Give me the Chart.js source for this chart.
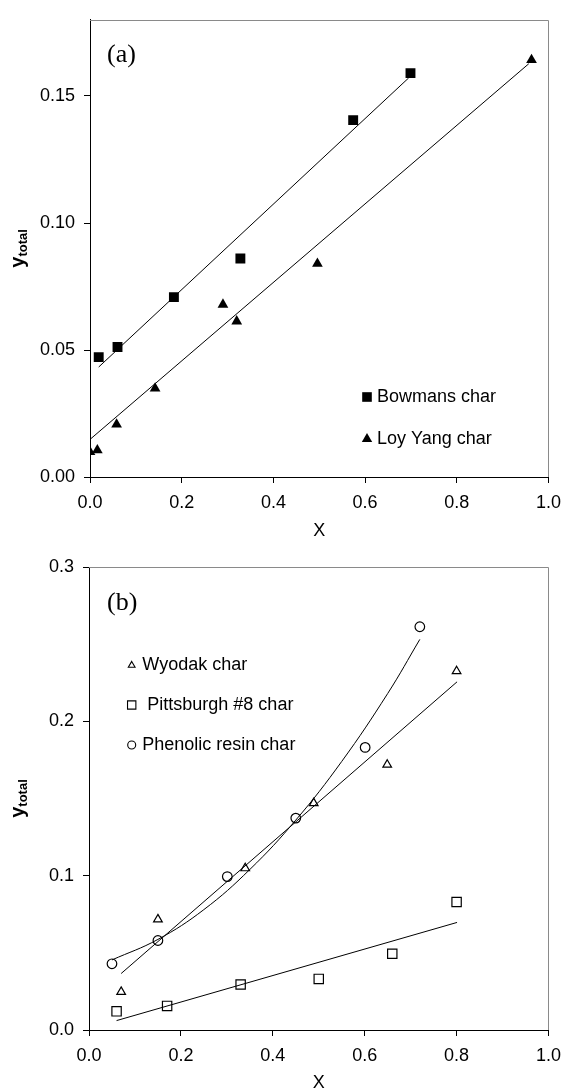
<!DOCTYPE html>
<html>
<head>
<meta charset="utf-8">
<script src="https://cdn.jsdelivr.net/npm/chart.js@4.4.1/dist/chart.umd.min.js"></script>
<style>
  html, body { margin: 0; padding: 0; background: #fff; }
  canvas { display: block; }
</style>
</head>
<body>
<canvas id="chartA" width="570" height="540"></canvas>
<canvas id="chartB" width="570" height="552"></canvas>
<script>
// ---- panel (a) ----
const bowmansX = [0.019, 0.060, 0.183, 0.328, 0.574, 0.699];
const bowmansY = [0.0472, 0.0512, 0.0708, 0.0860, 0.1405, 0.1590];
const loyYangX = [0.000, 0.016, 0.058, 0.142, 0.290, 0.320, 0.496, 0.963];
const loyYangY = [0.0099, 0.0106, 0.0207, 0.0349, 0.0679, 0.0613, 0.0840, 0.1642];
// fitted lines (end points)
const bowmansFitX = [0.019, 0.695];
const bowmansFitY = [0.0433, 0.1571];
const loyYangFitX = [0.000, 0.957];
const loyYangFitY = [0.0148, 0.1627];

// ---- panel (b) ----
const wyodakX = [0.070, 0.150, 0.340, 0.489, 0.649, 0.800];
const wyodakY = [0.0247, 0.0717, 0.1048, 0.1470, 0.1719, 0.2325];
const pittsX = [0.060, 0.170, 0.330, 0.500, 0.660, 0.800];
const pittsY = [0.0121, 0.0156, 0.0295, 0.0331, 0.0494, 0.0829];
const phenolicX = [0.050, 0.150, 0.301, 0.450, 0.601, 0.720];
const phenolicY = [0.0429, 0.0580, 0.0994, 0.1373, 0.1831, 0.2613];
const wyodakFitX = [0.070, 0.801];
const wyodakFitY = [0.0366, 0.2256];
const pittsFitX = [0.060, 0.801];
const pittsFitY = [0.0061, 0.0697];
// curve through phenolic resin points
const phenolicFitX = [0.05, 0.15, 0.25, 0.35, 0.45, 0.55, 0.65, 0.72];
const phenolicFitY = [0.0454, 0.0587, 0.0780, 0.1040, 0.1360, 0.1740, 0.2180, 0.2531];

const legendA = ['Bowmans char', 'Loy Yang char'];
const legendB = ['Wyodak char', ' Pittsburgh #8 char', 'Phenolic resin char'];

const FONT = '"Liberation Sans", Arial, sans-serif';

function pts(xs, ys) {
  return xs.map((x, i) => ({ x: x, y: ys[i] }));
}

function markers(label, xs, ys, style, radius, filled) {
  return {
    label: label,
    data: pts(xs, ys),
    showLine: false,
    pointStyle: style,
    pointRadius: radius,
    pointHoverRadius: radius,
    pointBackgroundColor: filled ? '#000' : 'rgba(0,0,0,0)',
    pointBorderColor: '#000',
    pointBorderWidth: filled ? 0 : 1.2,
  };
}

function fitLine(xs, ys, tension) {
  return {
    data: pts(xs, ys),
    showLine: true,
    pointRadius: 0,
    pointHoverRadius: 0,
    borderColor: '#000',
    borderWidth: 1,
    tension: tension || 0,
    fill: false,
  };
}

// frame, y title with subscript, panel letter and the in-plot legend
const decorPlugin = {
  id: 'decor',
  afterDraw(chart, args, opts) {
    const { ctx, chartArea: a } = chart;
    ctx.save();

    ctx.strokeStyle = '#8a8a8a';
    ctx.lineWidth = 1;
    ctx.beginPath();
    ctx.moveTo(Math.round(a.left), Math.round(a.top) + 0.5);
    ctx.lineTo(Math.round(a.right) + 0.5, Math.round(a.top) + 0.5);
    ctx.lineTo(Math.round(a.right) + 0.5, Math.round(a.bottom));
    ctx.stroke();

    // y_total
    ctx.fillStyle = '#000';
    ctx.translate(opts.yTitleX, (a.top + a.bottom) / 2);
    ctx.rotate(-Math.PI / 2);
    ctx.textBaseline = 'alphabetic';
    ctx.textAlign = 'left';
    ctx.font = 'bold 20px ' + FONT;
    const w1 = ctx.measureText('y').width;
    ctx.font = 'bold 13px ' + FONT;
    const w2 = ctx.measureText('total').width;
    const x0 = -(w1 + w2) / 2;
    ctx.font = 'bold 20px ' + FONT;
    ctx.fillText('y', x0, 0);
    ctx.font = 'bold 13px ' + FONT;
    ctx.fillText('total', x0 + w1, 3.5);
    ctx.setTransform(1, 0, 0, 1, 0, 0);

    // panel letter
    ctx.font = '26px "Liberation Serif", "Times New Roman", serif';
    ctx.textBaseline = 'middle';
    ctx.fillText(opts.panel, opts.panelX, opts.panelY);

    // legend
    ctx.font = '18px ' + FONT;
    opts.items.forEach((it, i) => {
      const y = opts.legendY[i];
      ctx.fillStyle = it.filled ? '#000' : 'rgba(0,0,0,0)';
      ctx.strokeStyle = '#000';
      ctx.lineWidth = it.filled ? 0 : 1.1;
      Chart.helpers.drawPoint(ctx, {
        pointStyle: it.style, radius: it.radius, rotation: 0,
        borderWidth: it.filled ? 0 : 1.1,
      }, opts.markerX, y);
      ctx.fillStyle = '#000';
      ctx.fillText(it.text, opts.textX, y);
    });
    ctx.restore();
  }
};

function axes(yMax, yStep, yDigits, yWidth, xHeight) {
  const grid = {
    display: true, drawOnChartArea: false, drawTicks: true,
    tickLength: 6, color: '#000', tickColor: '#000',
  };
  const border = { display: true, color: '#000', width: 1 };
  return {
    x: {
      type: 'linear', min: 0, max: 1,
      grid: grid, border: border,
      ticks: {
        stepSize: 0.2, includeBounds: false, padding: 9,
        color: '#000', font: { family: FONT, size: 18 },
        maxRotation: 0, callback: v => v.toFixed(1),
      },
      title: {
        display: true, text: 'X', color: '#000',
        font: { family: FONT, size: 18, lineHeight: 1 },
        padding: 0,
      },
      afterFit: s => { s.height = xHeight; },
    },
    y: {
      type: 'linear', min: 0, max: yMax,
      grid: grid, border: border,
      ticks: {
        stepSize: yStep, includeBounds: false, padding: 9,
        color: '#000', font: { family: FONT, size: 18 },
        callback: v => v.toFixed(yDigits),
      },
      afterFit: s => { s.width = yWidth; },
    },
  };
}

const baseOpts = {
  responsive: false,
  animation: false,
  devicePixelRatio: 1,
  events: [],
};

new Chart(document.getElementById('chartA'), {
  type: 'scatter',
  data: {
    datasets: [
      markers(legendA[0], bowmansX, bowmansY, 'rect', 7, true),
      markers(legendA[1], loyYangX, loyYangY, 'triangle', 6.2, true),
      fitLine(bowmansFitX, bowmansFitY),
      fitLine(loyYangFitX, loyYangFitY),
    ],
  },
  options: Object.assign({}, baseOpts, {
    layout: { padding: { top: 13, right: 15, left: 0, bottom: 0 } },
    scales: axes(0.18, 0.05, 2, 90, 63),
    plugins: {
      legend: { display: false },
      tooltip: { enabled: false },
      decor: {
        yTitleX: 23.5, panel: '(a)', panelX: 107, panelY: 55,
        markerX: 367, textX: 377, legendY: [397, 439],
        items: [
          { style: 'rect', radius: 6.8, filled: true, text: legendA[0] },
          { style: 'triangle', radius: 6, filled: true, text: legendA[1] },
        ],
      },
    },
  }),
  plugins: [decorPlugin],
});

new Chart(document.getElementById('chartB'), {
  type: 'scatter',
  data: {
    datasets: [
      markers(legendB[0], wyodakX, wyodakY, 'triangle', 5, false),
      markers(legendB[1], pittsX, pittsY, 'rect', 6.6, false),
      markers(legendB[2], phenolicX, phenolicY, 'circle', 4.8, false),
      fitLine(wyodakFitX, wyodakFitY),
      fitLine(pittsFitX, pittsFitY),
      fitLine(phenolicFitX, phenolicFitY, 0.4),
    ],
  },
  options: Object.assign({}, baseOpts, {
    layout: { padding: { top: 27, right: 16, left: 0, bottom: 0 } },
    scales: axes(0.3, 0.1, 1, 89, 62),
    plugins: {
      legend: { display: false },
      tooltip: { enabled: false },
      decor: {
        yTitleX: 23.5, panel: '(b)', panelX: 107, panelY: 63,
        markerX: 131.7, textX: 142.3, legendY: [125.3, 165, 205],
        items: [
          { style: 'triangle', radius: 3.9, filled: false, text: legendB[0] },
          { style: 'rect', radius: 5.9, filled: false, text: legendB[1] },
          { style: 'circle', radius: 4, filled: false, text: legendB[2] },
        ],
      },
    },
  }),
  plugins: [decorPlugin],
});
</script>
</body>
</html>
